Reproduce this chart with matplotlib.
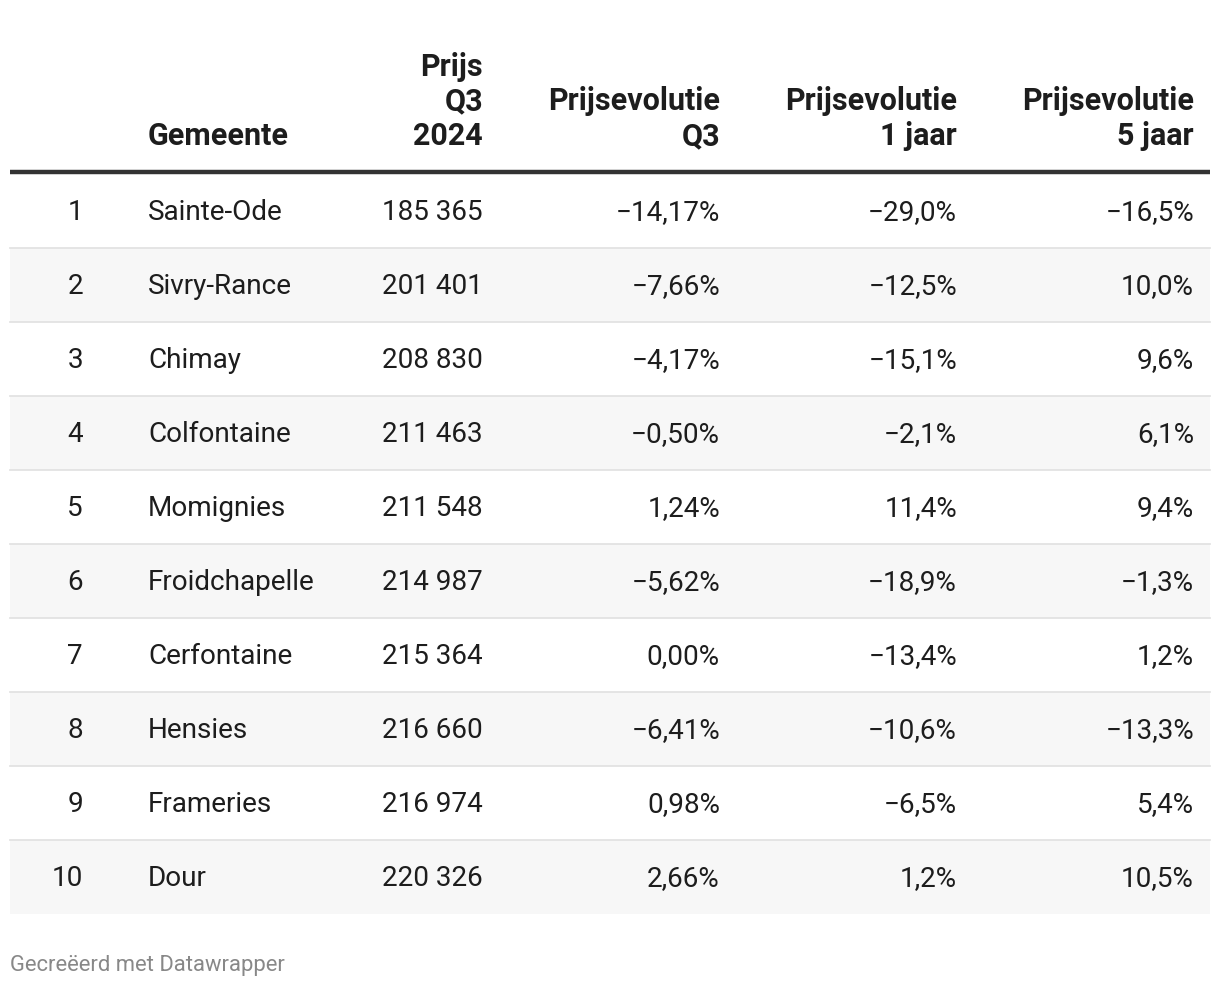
import matplotlib
matplotlib.use("Agg")
import matplotlib.pyplot as plt

plt.rcParams['font.family'] = ['Roboto', 'DejaVu Sans']

ranks = [1, 2, 3, 4, 5, 6, 7, 8, 9, 10]
gemeenten = ["Sainte-Ode", "Sivry-Rance", "Chimay", "Colfontaine", "Momignies",
             "Froidchapelle", "Cerfontaine", "Hensies", "Frameries", "Dour"]
prijs_q3_2024 = [185365, 201401, 208830, 211463, 211548, 214987, 215364, 216660, 216974, 220326]
evol_q3 = [-14.17, -7.66, -4.17, -0.50, 1.24, -5.62, 0.00, -6.41, 0.98, 2.66]
evol_1j = [-29.0, -12.5, -15.1, -2.1, 11.4, -18.9, -13.4, -10.6, -6.5, 1.2]
evol_5j = [-16.5, 10.0, 9.6, 6.1, 9.4, -1.3, 1.2, -13.3, 5.4, 10.5]
headers = [[""], ["Gemeente"], ["Prijs", "Q3", "2024"], ["Prijsevolutie", "Q3"],
           ["Prijsevolutie", "1 jaar"], ["Prijsevolutie", "5 jaar"]]
footer = "Gecreëerd met Datawrapper"


def fmt_int(v):
    return f"{v:,}".replace(",", " ")


def fmt_pct(v, d):
    s = f"{abs(v):.{d}f}".replace(".", ",") + "%"
    return ("\u2212" + s) if v < 0 else s


W, H = 1220, 988
fig = plt.figure(figsize=(W / 100, H / 100), dpi=100)
ax = fig.add_axes([0, 0, 1, 1])
ax.set_xlim(0, W)
ax.set_ylim(H, 0)
ax.axis("off")

# column positions (x, ha)
cols = [(83, "right"), (148, "left"), (483, "right"), (720, "right"), (957, "right"), (1194, "right")]
left, right = 10, 1210
top = 174
rowh = 74
fs = 20.1
fsh = 22.0
txt = "#1d1d1d"

# header
for (x, ha), lines in zip(cols, headers):
    n = len(lines)
    for i, ln in enumerate(lines):
        yb = 145 - (n - 1 - i) * 34.5
        ax.text(x, yb, ln, ha=ha, va="baseline", fontsize=fsh, fontweight="bold", color=txt)
ax.plot([left, right], [172, 172], color="#333333", lw=3.2, solid_capstyle="butt")

# rows
for i in range(len(ranks)):
    y0 = top + i * rowh
    y1 = y0 + rowh
    if i % 2 == 1:
        ax.fill_between([left, right], y0, y1, color="#f7f7f7", lw=0)
    if i > 0:
        ax.plot([left, right], [y0, y0], color="#e3e3e3", lw=1.3)
    yb = y0 + rowh / 2 + 9
    vals = [str(ranks[i]), gemeenten[i], fmt_int(prijs_q3_2024[i]),
            fmt_pct(evol_q3[i], 2), fmt_pct(evol_1j[i], 1), fmt_pct(evol_5j[i], 1)]
    for (x, ha), v in zip(cols, vals):
        ax.text(x, yb, v, ha=ha, va="baseline", fontsize=fs, color=txt)

ax.text(10, 971, footer, ha="left", va="baseline", fontsize=15.8, color="#888888")

fig.savefig("out.png", dpi=100, facecolor="white")
